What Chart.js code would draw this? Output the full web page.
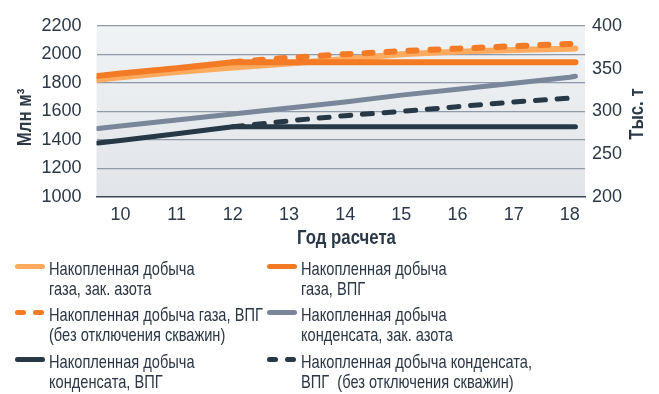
<!DOCTYPE html>
<html>
<head>
<meta charset="utf-8">
<script src="https://cdn.jsdelivr.net/npm/chart.js@4.4.1/dist/chart.umd.min.js"></script>
<style>
  html, body { margin: 0; padding: 0; background: #ffffff; }
  body { width: 659px; height: 394px; position: relative; overflow: hidden; }
  #wrap { position: absolute; left: 0; top: 0; width: 659px; height: 250px; }
  #legend { position: absolute; left: 0; top: 0; width: 659px; height: 394px; pointer-events: none; }
  #legend .item { position: absolute; width: 250px; height: 40px; }
  #legend svg { position: absolute; left: 0; top: 0; overflow: visible; }
  #legend .txt { position: absolute; left: 34px; top: 0; font-size: 19px; line-height: 20px;
                 white-space: pre; color: #2b3745; transform-origin: 0 0; }
</style>
</head>
<body>
<div id="wrap"><canvas id="c"></canvas></div>
<div id="legend"></div>
<script>
// Calculation years (x positions of the computed points; the run starts a little before year 10)
const xPos = [9.6, 10, 11, 12, 13, 14, 15, 16, 17, 18, 18.1];
const yearTicks = [10, 11, 12, 13, 14, 15, 16, 17, 18];
const gasTicks = [1000, 1200, 1400, 1600, 1800, 2000, 2200];      // млн м³
const condTicks = [200, 250, 300, 350, 400];                        // тыс. т

// Cumulative gas production, млн м³
const gasNitrogen     = [1822, 1839, 1876, 1908, 1936, 1968, 2000, 2019, 2031, 2040, 2041];
const gasVpg          = [1849, 1865, 1903, 1945, 1945, 1945, 1945, 1945, 1945, 1945, 1945];
const gasVpgNoShutIn  = [null, null, null, 1945, 1976, 2001, 2022, 2040, 2057, 2073, 2075];
// Cumulative condensate production, тыс. т
const condNitrogen    = [280, 283, 290, 297, 304, 311, 319, 326, 333, 340, 341];
const condVpg         = [263, 266, 274, 282, 282, 282, 282, 282, 282, 282, 282];
const condVpgNoShutIn = [null, null, null, 282, 289, 295, 300, 305.5, 311, 315.5, 316];

const seriesLabels = [
  'Накопленная добыча\nгаза, зак. азота',
  'Накопленная добыча\nгаза, ВПГ',
  'Накопленная добыча газа, ВПГ\n(без отключения скважин)',
  'Накопленная добыча\nконденсата, зак. азота',
  'Накопленная добыча\nконденсата, ВПГ',
  'Накопленная добыча конденсата,\nВПГ  (без отключения скважин)'
];

const COL = {
  lightOrange: '#fcaa5e',
  orange: '#f47b25',
  gray: '#7a869a',
  dark: '#273847',
  text: '#2b3846',
  grid: '#8e99aa',
  axis: '#3d4858'
};

function fontAvailable(name) {
  const c = document.createElement('canvas').getContext('2d');
  const probe = 'Накопленная добыча 0123';
  c.font = '40px monospace';
  const a = c.measureText(probe).width;
  c.font = '40px "' + name + '", monospace';
  return Math.abs(c.measureText(probe).width - a) > 0.5;
}
const hasNarrow = fontAvailable('Liberation Sans Narrow');
const NARROW = hasNarrow ? '"Liberation Sans Narrow", "Liberation Sans", sans-serif' : '"Liberation Sans", sans-serif';
const REGULAR = '"Liberation Sans", Arial, sans-serif';
const SQUEEZE = hasNarrow ? 0.94 : 0.77;   // horizontal squeeze that imitates a condensed face

function pts(values) {
  return xPos.map((x, i) => ({ x: x, y: values[i] })).filter(p => p.y !== null);
}

function series(i, values, axis, color, dash, width, order) {
  return {
    label: seriesLabels[i],
    data: pts(values),
    yAxisID: axis,
    borderColor: color,
    backgroundColor: color,
    borderWidth: width,
    borderDash: dash,
    borderCapStyle: 'round',
    borderJoinStyle: 'round',
    pointRadius: 0,
    tension: 0,
    fill: false,
    order: order
  };
}

const datasets = [
  series(0, gasNitrogen,     'y',  COL.lightOrange, [],         6, 2),
  series(1, gasVpg,          'y',  COL.orange,      [],         6, 1),
  series(2, gasVpgNoShutIn,  'y',  COL.orange,      [8, 14],    6, 0),
  series(3, condNitrogen,    'y1', COL.gray,        [],         5, 1),
  series(4, condVpg,         'y1', COL.dark,        [],         5, 1),
  series(5, condVpgNoShutIn, 'y1', COL.dark,        [10, 11.7], 5, 0)
];

// Soft vertical gradient behind the plot area
const plotBackground = {
  id: 'plotBackground',
  beforeDraw(chart) {
    const { ctx, chartArea: a } = chart;
    const g = ctx.createLinearGradient(0, a.top, 0, a.bottom);
    g.addColorStop(0, '#eff3f5');
    g.addColorStop(1, '#e1e5e9');
    ctx.save();
    ctx.fillStyle = g;
    ctx.fillRect(a.left, a.top, a.right - a.left, a.bottom - a.top);
    ctx.restore();
  }
};

// Axis titles in a bold condensed style
const axisTitles = {
  id: 'axisTitles',
  afterDraw(chart) {
    const ctx = chart.ctx;
    const put = (text, x, y, angle, size, squeeze) => {
      ctx.save();
      ctx.translate(x, y);
      ctx.rotate(angle);
      ctx.scale(squeeze, 1);
      ctx.font = 'bold ' + size + 'px ' + NARROW;
      ctx.fillStyle = COL.text;
      ctx.textAlign = 'center';
      ctx.textBaseline = 'middle';
      ctx.fillText(text, 0, 0);
      ctx.restore();
    };
    const sq = hasNarrow ? 1 : 0.84;
    put('Млн м³', 25.5, 117.5, -Math.PI / 2, 20, sq);
    put('Тыс. т', 637.5, 114, -Math.PI / 2, 20, sq);
    put('Год расчета', 346.5, 239, 0, 19.5, hasNarrow ? 1 : 0.86);
  }
};

// Two-column legend built from the datasets
const htmlLegend = {
  id: 'htmlLegend',
  afterUpdate(chart) {
    const box = document.getElementById('legend');
    box.innerHTML = '';
    chart.data.datasets.forEach((ds, i) => {
      const col = i % 2, row = Math.floor(i / 2);
      const item = document.createElement('div');
      item.className = 'item';
      item.style.left = (15 + col * 252) + 'px';
      item.style.top = (258.5 + row * 46.7) + 'px';
      const svgNS = 'http://www.w3.org/2000/svg';
      const svg = document.createElementNS(svgNS, 'svg');
      svg.setAttribute('width', '30');
      svg.setAttribute('height', '16');
      const ln = document.createElementNS(svgNS, 'line');
      ln.setAttribute('x1', '2.5'); ln.setAttribute('x2', '27.5');
      ln.setAttribute('y1', '7.5'); ln.setAttribute('y2', '7.5');
      ln.setAttribute('stroke', ds.borderColor);
      ln.setAttribute('stroke-width', '5');
      ln.setAttribute('stroke-linecap', 'round');
      if (ds.borderDash && ds.borderDash.length) ln.setAttribute('stroke-dasharray', '6 12');
      svg.appendChild(ln);
      item.appendChild(svg);
      const t = document.createElement('div');
      t.className = 'txt';
      t.textContent = ds.label;
      t.style.fontFamily = NARROW;
      if (SQUEEZE !== 1) t.style.transform = 'scaleX(' + SQUEEZE + ')';
      item.appendChild(t);
      box.appendChild(item);
    });
  }
};

const plainNumber = v => String(v);

new Chart(document.getElementById('c'), {
  type: 'line',
  data: { datasets: datasets },
  plugins: [plotBackground, axisTitles, htmlLegend],
  options: {
    responsive: true,
    maintainAspectRatio: false,
    animation: false,
    devicePixelRatio: 1,
    layout: { padding: { top: 19, left: 0, right: 0, bottom: 0 } },
    plugins: { legend: { display: false }, tooltip: { enabled: false } },
    scales: {
      x: {
        type: 'linear',
        min: 9.573,
        max: 18.27,
        afterBuildTicks: s => { s.ticks = yearTicks.map(v => ({ value: v })); },
        afterFit: s => { s.height = 53; },
        grid: { display: false, drawTicks: false },
        border: { display: true, color: COL.axis, width: 1.5 },
        ticks: { autoSkip: false, maxRotation: 0, padding: 7, color: COL.text,
                 font: { family: REGULAR, size: 18 }, callback: plainNumber }
      },
      y: {
        position: 'left',
        min: 1000,
        max: 2200,
        afterBuildTicks: s => { s.ticks = gasTicks.map(v => ({ value: v })); },
        afterFit: s => { s.width = 96.5; },
        grid: { color: c => (c.tick && c.tick.value === 1000 ? 'rgba(0,0,0,0)' : COL.grid),
                lineWidth: 1.3, drawTicks: false },
        border: { display: false },
        ticks: { padding: 15, color: COL.text, font: { family: REGULAR, size: 18 },
                 callback: plainNumber }
      },
      y1: {
        position: 'right',
        min: 200,
        max: 400,
        afterBuildTicks: s => { s.ticks = condTicks.map(v => ({ value: v })); },
        afterFit: s => { s.width = 74; },
        grid: { display: false, drawTicks: false },
        border: { display: false },
        ticks: { padding: 7, color: COL.text, font: { family: REGULAR, size: 18 },
                 callback: plainNumber }
      }
    }
  }
});
</script>
</body>
</html>
